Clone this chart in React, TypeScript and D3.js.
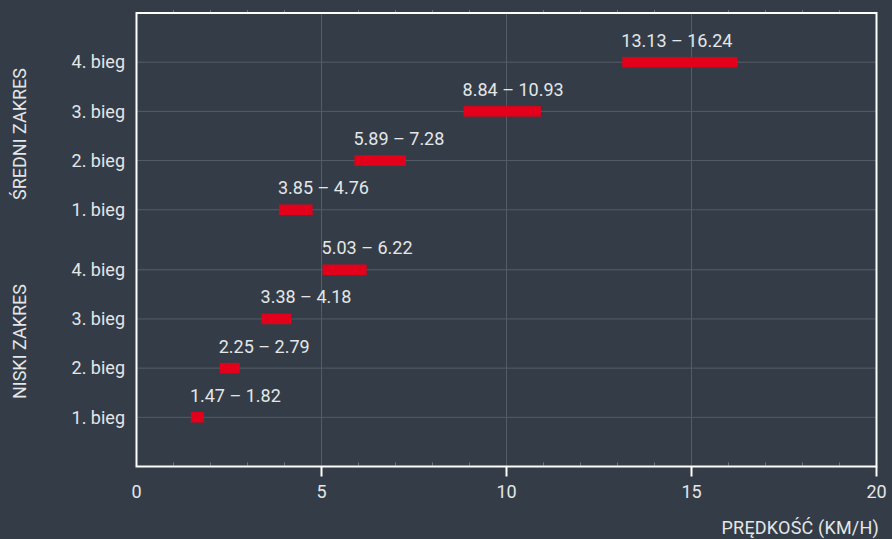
import React from 'react';
import * as d3 from 'd3';

const WIDTH = 892;
const HEIGHT = 539;
const MARGIN = { top: 13, right: 15.5, bottom: 72.5, left: 136.5 };

const GROUPS = ['NISKI ZAKRES', 'ŚREDNI ZAKRES'];
const GEARS = ['1. bieg', '2. bieg', '3. bieg', '4. bieg'];
const LOW_MIN = [1.47, 2.25, 3.38, 5.03];
const LOW_MAX = [1.82, 2.79, 4.18, 6.22];
const MID_MIN = [3.85, 5.89, 8.84, 13.13];
const MID_MAX = [4.76, 7.28, 10.93, 16.24];
const X_TICKS = [0, 5, 10, 15, 20];
const X_TITLE = 'PRĘDKOŚĆ (KM/H)';

const GROUP_STEP = 4.22;
const BAR_H = 10.5;
const BG = '#343d47';
const GRID = '#535d68';
const TEXT = '#e4e6e8';
const RED = '#e3001b';
const FONT = 'Roboto, sans-serif';

const rows = GROUPS.flatMap((group, g) =>
  GEARS.map((gear, i) => ({
    group,
    gear,
    pos: g * GROUP_STEP + i + 1,
    min: g === 0 ? LOW_MIN[i] : MID_MIN[i],
    max: g === 0 ? LOW_MAX[i] : MID_MAX[i],
  }))
);

export default function App() {
  const boundsWidth = WIDTH - MARGIN.left - MARGIN.right;
  const boundsHeight = HEIGHT - MARGIN.top - MARGIN.bottom;

  const xScale = d3.scaleLinear().domain([0, 20]).range([0, boundsWidth]);
  const yScale = d3
    .scaleLinear()
    .domain([0, GROUP_STEP + GEARS.length + 1])
    .range([boundsHeight, 0]);

  const fmt = d3.format('.2f');
  const minorTicks = d3.range(1, 20).filter((v) => v % 5 !== 0);

  return (
    <div style={{ position: 'absolute', left: 0, top: 0 }}>
      <svg width={WIDTH} height={HEIGHT} style={{ display: 'block', background: BG }}>
        <rect width={WIDTH} height={HEIGHT} fill={BG} />
        <g transform={`translate(${MARGIN.left},${MARGIN.top})`} fontFamily={FONT}>
          {/* grid */}
          {X_TICKS.slice(1, -1).map((v) => (
            <line key={v} x1={xScale(v)} x2={xScale(v)} y1={0} y2={boundsHeight} stroke={GRID} strokeWidth={1} />
          ))}
          {rows.map((r, i) => (
            <line key={i} x1={0} x2={boundsWidth} y1={yScale(r.pos)} y2={yScale(r.pos)} stroke={GRID} strokeWidth={1} />
          ))}

          {/* minor ticks */}
          {minorTicks.map((v) => (
            <g key={v} stroke="#6c7580" strokeWidth={1}>
              <line x1={xScale(v)} x2={xScale(v)} y1={-1} y2={-3} />
              <line x1={xScale(v)} x2={xScale(v)} y1={boundsHeight - 1} y2={boundsHeight - 4} />
            </g>
          ))}

          {/* frame */}
          <rect x={0} y={0} width={boundsWidth} height={boundsHeight} fill="none" stroke="#ffffff" strokeWidth={2} />

          {/* x ticks */}
          {X_TICKS.map((v) => (
            <g key={v}>
              {v > 0 && (
                <line x1={xScale(v)} x2={xScale(v)} y1={boundsHeight} y2={boundsHeight + 10} stroke="#ffffff" strokeWidth={2} />
              )}
              <text x={xScale(v)} y={boundsHeight + 31.5} textAnchor="middle" fontSize={18} fill={TEXT}>
                {v}
              </text>
            </g>
          ))}
          <text
            x={WIDTH - MARGIN.left - 13}
            y={HEIGHT - MARGIN.top - 5.5}
            textAnchor="end"
            fontSize={18}
            letterSpacing={0.2}
            fill={TEXT}
          >
            {X_TITLE}
          </text>

          {/* y labels */}
          {rows.map((r, i) => (
            <text key={i} x={-11.5} y={yScale(r.pos)} dy="0.35em" textAnchor="end" fontSize={18} fill={TEXT}>
              {r.gear}
            </text>
          ))}
          {GROUPS.map((group, g) => {
            const c = (yScale(g * GROUP_STEP + 1) + yScale(g * GROUP_STEP + GEARS.length)) / 2 - 2;
            return (
              <text
                key={group}
                transform={`translate(${25.5 - MARGIN.left},${c}) rotate(-90)`}
                textAnchor="middle"
                fontSize={18}
                fill={TEXT}
              >
                {group}
              </text>
            );
          })}

          {/* bars */}
          {rows.map((r, i) => (
            <g key={i}>
              <rect
                x={xScale(r.min)}
                y={yScale(r.pos) - BAR_H / 2}
                width={xScale(r.max) - xScale(r.min)}
                height={BAR_H}
                fill={RED}
              />
              <text x={xScale(r.min) - 1} y={yScale(r.pos) - 15.5} fontSize={18} fill={TEXT}>
                {`${fmt(r.min)} – ${fmt(r.max)}`}
              </text>
            </g>
          ))}
        </g>
      </svg>
    </div>
  );
}
